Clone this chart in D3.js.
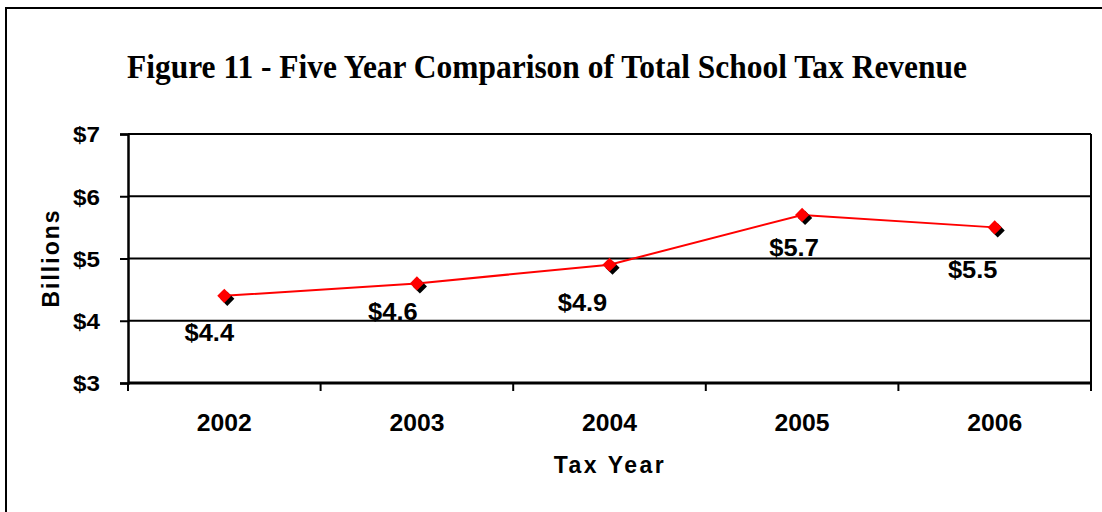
<!DOCTYPE html>
<html>
<head>
<meta charset="utf-8">
<script src="https://cdn.jsdelivr.net/npm/d3@7"></script>
<style>
  html, body { margin: 0; padding: 0; background: #fff; }
  svg { display: block; }
  text { font-family: "Liberation Sans", Arial, sans-serif; font-weight: bold; fill: #000; }
  .title { font-family: "Liberation Serif", "Times New Roman", serif; }
</style>
</head>
<body>
<svg id="chart" width="1102" height="512"></svg>
<script>
// Total school tax revenue by tax year, in billions of dollars
const years = ["2002", "2003", "2004", "2005", "2006"];
const revenue = [4.4, 4.6, 4.9, 5.7, 5.5];
const yTicks = [3, 4, 5, 6, 7];
// nudge of each value label from its marker (dx, dy)
const labelNudge = [[-15, 45], [-24, 37], [-27, 46], [-8, 41], [-22, 51]];

const svg = d3.select("#chart");
const W = 1102, H = 512;
const plot = { left: 128, right: 1091, top: 134, bottom: 383 };

// widen or narrow glyphs of a text selection by a factor
function stretch(sel, f) {
  sel.each(function () {
    const len = this.getComputedTextLength();
    d3.select(this).attr("textLength", len * f).attr("lengthAdjust", "spacingAndGlyphs");
  });
}

// outer frame (runs past the right and bottom edges)
svg.append("path")
  .attr("d", `M6,${H + 5} V8 H${W + 5}`)
  .attr("fill", "none").attr("stroke", "#000").attr("stroke-width", 2);

// title
svg.append("text").attr("class", "title")
  .attr("x", 127).attr("y", 78)
  .style("font-size", "33px")
  .attr("textLength", 840).attr("lengthAdjust", "spacingAndGlyphs")
  .text("Figure 11 - Five Year Comparison of Total School Tax Revenue");

const x = d3.scaleBand().domain(years).range([plot.left, plot.right]).padding(0);
const y = d3.scaleLinear().domain([3, 7]).range([plot.bottom, plot.top]);

// horizontal gridlines
svg.append("g").selectAll("line").data(yTicks.filter(d => d > 3)).join("line")
  .attr("x1", plot.left).attr("x2", plot.right)
  .attr("y1", d => y(d)).attr("y2", d => y(d))
  .attr("stroke", "#000").attr("stroke-width", 2);

// right edge of plot area
svg.append("line")
  .attr("x1", plot.right).attr("x2", plot.right)
  .attr("y1", plot.top).attr("y2", plot.bottom)
  .attr("stroke", "#000").attr("stroke-width", 2);

// y axis
const yAxis = svg.append("g")
  .attr("transform", `translate(${plot.left},0)`)
  .call(d3.axisLeft(y).tickValues(yTicks).tickFormat(d => "$" + d).tickSize(8).tickPadding(20));
yAxis.select(".domain").attr("stroke-width", 2.5);
yAxis.selectAll(".tick line").attr("stroke-width", 2);
yAxis.selectAll("text").style("font-size", "22px").attr("dy", "0.36em");
stretch(yAxis.selectAll("text"), 1.1);

// x axis: ticks fall on category boundaries
const bounds = years.map(d => x(d)).concat([plot.right]);
const xg = svg.append("g").attr("transform", `translate(0,${plot.bottom})`);
xg.call(d3.axisBottom(x).tickSize(0).tickPadding(30));
xg.select(".domain").attr("d", `M${plot.left},0H${plot.right}`).attr("stroke-width", 3);
xg.selectAll(".tick text").style("font-size", "24px").attr("dy", "0").attr("y", 48);
stretch(xg.selectAll(".tick text"), 1.03);
xg.selectAll("line.bound").data(bounds).join("line").attr("class", "bound")
  .attr("x1", d => d).attr("x2", d => d).attr("y1", 0).attr("y2", 8)
  .attr("stroke", "#000").attr("stroke-width", 2);

// axis titles
svg.append("text")
  .attr("transform", `translate(59,258) rotate(-90)`)
  .attr("text-anchor", "middle")
  .style("font-size", "23px").style("letter-spacing", "2px")
  .text("Billions");
svg.append("text")
  .attr("x", 610).attr("y", 473)
  .attr("text-anchor", "middle")
  .style("font-size", "23px").style("letter-spacing", "2.5px")
  .text("Tax Year");

// series line
const cx = d => x(d) + x.bandwidth() / 2;
const line = d3.line().x((d, i) => cx(years[i])).y(d => y(d));
svg.append("path").datum(revenue)
  .attr("d", line)
  .attr("fill", "none").attr("stroke", "#ff0000").attr("stroke-width", 2);

// diamond markers with a dark drop shadow
const diamond = d3.symbol().type(d3.symbolSquare).size(100);
const marks = svg.append("g").selectAll("g").data(revenue).join("g")
  .attr("transform", (d, i) => `translate(${cx(years[i])},${y(d)})`);
marks.append("path").attr("d", diamond())
  .attr("transform", "translate(3,3) rotate(45)").attr("fill", "#000");
marks.append("path").attr("d", diamond())
  .attr("transform", "rotate(45)").attr("fill", "#ff0000");

// value labels
const vals = svg.append("g").selectAll("text").data(revenue).join("text")
  .attr("x", (d, i) => cx(years[i]) + labelNudge[i][0])
  .attr("y", (d, i) => y(d) + labelNudge[i][1])
  .attr("text-anchor", "middle")
  .style("font-size", "24px")
  .text(d => "$" + d.toFixed(1));
stretch(vals, 1.06);
</script>
</body>
</html>
